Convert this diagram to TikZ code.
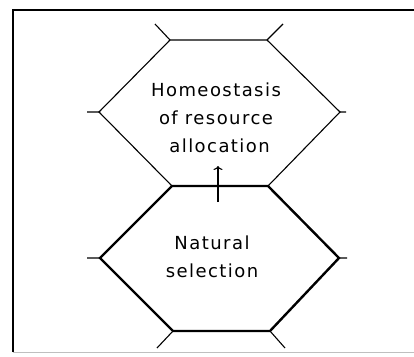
\documentclass[tikz,border=0pt]{standalone}
\usepackage{fontspec}
\setmainfont{DejaVu Sans}[LetterSpace=8]
\usetikzlibrary{arrows.meta}
\begin{document}
\begin{tikzpicture}[x=1pt,y=-1pt,
  thincell/.style={line width=1.1pt,line join=miter},
  thickcell/.style={line width=2.4pt,line join=miter},
  spike/.style={line width=1.1pt},
  label/.style={align=center,font=\fontsize{18}{28}\selectfont,inner sep=0pt},
  frameline/.style={line width=1.4pt}]
\useasboundingbox (0,0) rectangle (414,356);
% outer frame
\draw[frameline] (13,352) -- (13,10) -- (414,10);
\draw[line width=0.8pt,black!25] (13,352) -- (414,352);
% upper cell (its lower edge is shared with the lower cell)
\coordinate (uTL) at (170,40);
\coordinate (uTR) at (267,40);
\coordinate (uR) at (340,112);
\coordinate (uBR) at (268,186);
\coordinate (uBL) at (172,186);
\coordinate (uL) at (99,112);
\draw[thincell] (uBL) -- (uL) -- (uTL) -- (uTR) -- (uR) -- (uBR);
\draw[spike] (uTL) -- (155,24) (uTR) -- (283,24) (uL) -- (87,112) (uR) -- (346,112);
% lower cell
\coordinate (lTL) at (172,186);
\coordinate (lTR) at (268,186);
\coordinate (lR) at (339,258);
\coordinate (lBR) at (270,331);
\coordinate (lBL) at (173,331);
\coordinate (lL) at (100,258);
\draw[thickcell] (lTL) -- (lTR) -- (lR) -- (lBR) -- (lBL) -- (lL) -- cycle;
\draw[spike] (lL) -- (87,258) (lR) -- (347,258) (lBL) -- (157,348) (lBR) -- (285,348);
% labels
\node[label] (homeo) at (216,118) {Homeostasis\\of resource\\\ allocation};
\node[label] (natsel) at (212,257) {Natural\\selection};
% influence arrow
\coordinate (aStart) at (218,202);
\coordinate (aEnd) at (218,166);
\draw[line width=1.1pt,-{To[length=4pt,width=9pt]}] (aStart) -- (aEnd);
\end{tikzpicture}
\end{document}
